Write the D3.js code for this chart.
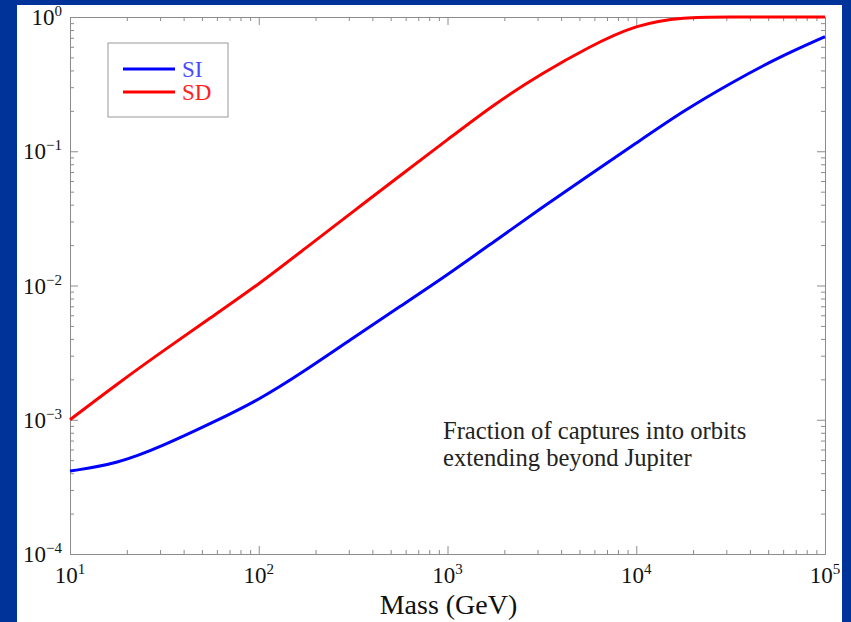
<!DOCTYPE html>
<html>
<head>
<meta charset="utf-8">
<script src="https://cdn.jsdelivr.net/npm/d3@7"></script>
<style>
  html, body { margin: 0; padding: 0; background: #003399; }
  #chart { width: 851px; height: 622px; }
</style>
</head>
<body>
<div id="chart"></div>
<script>
// data
var masses = [10, 17.78, 31.62, 56.23, 100, 177.8, 316.2, 562.3, 1000, 1778, 3162, 5623, 10000, 17783, 31623, 56234, 100000];
var fracSI = [4.15e-4, 4.68e-4, 6.46e-4, 9.44e-4, 1.40e-3, 2.34e-3, 4.07e-3, 7.0e-3, 1.20e-2, 2.14e-2, 3.80e-2, 6.62e-2, 0.115, 0.200, 0.322, 0.498, 0.714];
var fracSD = [1.0e-3, 1.85e-3, 3.31e-3, 5.81e-3, 1.02e-2, 1.91e-2, 3.55e-2, 6.61e-2, 0.122, 0.226, 0.380, 0.600, 0.880, 1.0, 1.0, 1.0, 1.0];
var seriesNames = ["SI", "SD"];
var xTickExps = [1, 2, 3, 4, 5];
var yTickExps = [-4, -3, -2, -1, 0];
var xTitle = "Mass (GeV)";
var noteLines = ["Fraction of captures into orbits", "extending beyond Jupiter"];

var width = 851, height = 622;
var padding = { left: 70, right: 26, top: 17, bottom: 68 };
var plotWidth = width - padding.left - padding.right;
var plotHeight = height - padding.top - padding.bottom;
var font = "'Liberation Serif', 'Times New Roman', serif";
var axisColor = "#8c8c8c";

var svg = d3.select("#chart")
    .append("svg")
    .attr("width", width)
    .attr("height", height);

// white panel on the blue slide
svg.append("rect")
    .attr("x", 17).attr("y", 5)
    .attr("width", 825).attr("height", height - 5)
    .attr("fill", "#ffffff");

var x_scale = d3.scaleLog().domain([10, 1e5]).range([0, plotWidth]);
var y_scale = d3.scaleLog().domain([1e-4, 1]).range([plotHeight, 0]);

var g = svg.append("g")
    .attr("transform", "translate(" + padding.left + "," + padding.top + ")");

var xMajor = xTickExps.map(e => Math.pow(10, e));
var yMajor = yTickExps.map(e => Math.pow(10, e));
var xMinor = x_scale.ticks().filter(v => xMajor.indexOf(v) < 0);
var yMinor = y_scale.ticks().filter(v => yMajor.indexOf(v) < 0);

function addAxis(axisFn, scale, values, size, transform) {
    var a = g.append("g")
        .attr("transform", transform)
        .call(axisFn(scale).tickValues(values).tickSize(size).tickSizeOuter(0).tickFormat(""));
    a.select(".domain").attr("stroke", axisColor);
    a.selectAll(".tick line").attr("stroke", axisColor);
    return a;
}

// ticks point inward on all four sides
addAxis(d3.axisBottom, x_scale, xMajor, -8, "translate(0," + plotHeight + ")");
addAxis(d3.axisBottom, x_scale, xMinor, -4, "translate(0," + plotHeight + ")");
addAxis(d3.axisTop, x_scale, xMajor, -8, "translate(0,0)");
addAxis(d3.axisTop, x_scale, xMinor, -4, "translate(0,0)");
addAxis(d3.axisLeft, y_scale, yMajor, -8, "translate(0,0)");
addAxis(d3.axisLeft, y_scale, yMinor, -4, "translate(0,0)");
addAxis(d3.axisRight, y_scale, yMajor, -8, "translate(" + plotWidth + ",0)");
addAxis(d3.axisRight, y_scale, yMinor, -4, "translate(" + plotWidth + ",0)");

// tick labels as 10^n
function powerLabel(sel) {
    sel.text("10")
        .append("tspan")
        .attr("dy", -9)
        .attr("font-size", 15)
        .text(d => String(d).replace("-", "\u2212"));
}

g.append("g").selectAll("text")
    .data(xTickExps)
    .enter()
    .append("text")
    .attr("x", d => x_scale(Math.pow(10, d)))
    .attr("y", plotHeight + 29)
    .attr("text-anchor", "middle")
    .attr("font-family", font)
    .attr("font-size", 23)
    .attr("fill", "#111")
    .call(powerLabel);

g.append("g").selectAll("text")
    .data(yTickExps)
    .enter()
    .append("text")
    .attr("x", -8)
    .attr("y", d => y_scale(Math.pow(10, d)) + 8)
    .attr("text-anchor", "end")
    .attr("font-family", font)
    .attr("font-size", 23)
    .attr("fill", "#111")
    .call(powerLabel);

// axis title
g.append("text")
    .attr("x", plotWidth / 2 + 1)
    .attr("y", plotHeight + 60)
    .attr("text-anchor", "middle")
    .attr("font-family", font)
    .attr("font-size", 28)
    .attr("fill", "#111")
    .text(xTitle);

// curves
var colors = { SI: "#0000ff", SD: "#ff0000" };
var series = [
    { name: "SI", values: masses.map((m, i) => ({ m: m, f: fracSI[i] })) },
    { name: "SD", values: masses.map((m, i) => ({ m: m, f: fracSD[i] })) }
];

var line = d3.line()
    .x(d => x_scale(d.m))
    .y(d => y_scale(d.f))
    .curve(d3.curveBasis);

g.selectAll("path.curve")
    .data(series)
    .enter()
    .append("path")
    .attr("class", "curve")
    .attr("d", d => line(d.values))
    .attr("fill", "none")
    .attr("stroke", d => colors[d.name])
    .attr("stroke-width", 3);

// legend
var legend = svg.append("g").attr("transform", "translate(108,43)");
legend.append("rect")
    .attr("width", 120).attr("height", 74)
    .attr("fill", "#fff")
    .attr("stroke", "#aaaaaa")
    .attr("stroke-width", 1.2);

var items = legend.selectAll("g.item")
    .data(seriesNames)
    .enter()
    .append("g")
    .attr("class", "item")
    .attr("transform", (d, i) => "translate(0," + (26 + i * 23) + ")");

items.append("line")
    .attr("x1", 15).attr("x2", 67)
    .attr("stroke", d => colors[d])
    .attr("stroke-width", 3);

items.append("text")
    .attr("x", 74)
    .attr("y", 8)
    .attr("font-family", font)
    .attr("font-size", 23)
    .attr("fill", d => d === "SI" ? "#4a4aff" : "#ff2020")
    .text(d => d);

// annotation
g.append("text")
    .attr("font-family", font)
    .attr("font-size", 24.6)
    .attr("fill", "#222")
    .selectAll("tspan")
    .data(noteLines)
    .enter()
    .append("tspan")
    .attr("x", 443 - padding.left)
    .attr("y", (d, i) => 439 - padding.top + i * 27)
    .text(d => d);
</script>
</body>
</html>
